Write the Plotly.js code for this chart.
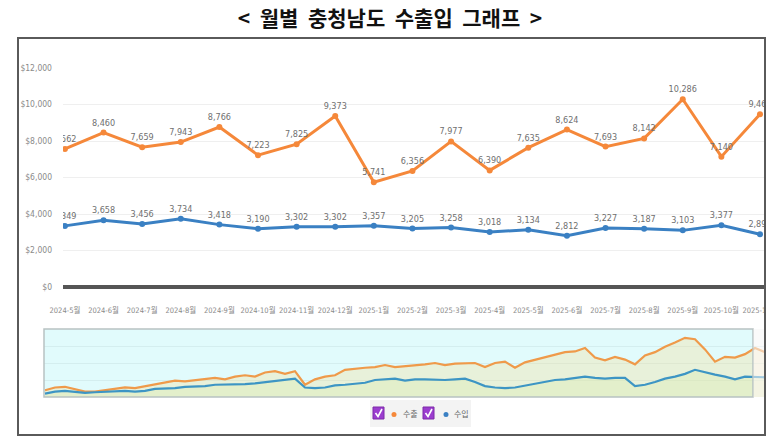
<!DOCTYPE html>
<html>
<head>
<meta charset="utf-8">
<script src="https://cdn.plot.ly/plotly-3.0.1.min.js"></script>
<style>html,body{margin:0;padding:0;background:#fff}#chart{width:780px;height:446px}</style>
</head>
<body>
<div id="chart"></div>
<script>
// ---- data ----
const months = ["2024-5월","2024-6월","2024-7월","2024-8월","2024-9월","2024-10월","2024-11월","2024-12월",
  "2025-1월","2025-2월","2025-3월","2025-4월","2025-5월","2025-6월","2025-7월","2025-8월","2025-9월","2025-10월","2025-11월"];
const exportVals = [7562,8460,7659,7943,8766,7223,7825,9373,5741,6356,7977,6390,7635,8624,7693,8142,10286,7140,9465];
const importVals = [3349,3658,3456,3734,3418,3190,3302,3302,3357,3205,3258,3018,3134,2812,3227,3187,3103,3377,2893];
const seriesNames = ["수출","수입"];
// navigator (overview) series, estimated index values
const navExport = [10,14,15,12,8,8,10,12,14,13,16,19,22,24,23,25,26,28,26,30,32,30,36,38,34,38,18,26,30,32,
  40,42,43,44,47,44,45,47,48,50,47,49,50,50,44,50,52,43,51,55,58,62,66,67,72,58,54,59,55,48,
  61,66,74,80,87,85,70,52,59,58,63,72,66];
const navImport = [5,8,9,7,6,7,8,8,9,8,9,12,12,13,15,15,16,18,18,19,19,20,22,24,25,27,14,13,14,17,
  18,20,21,25,26,27,24,26,26,25,25,26,27,22,16,14,13,14,17,19,22,25,26,28,30,28,27,28,28,16,
  18,22,27,30,34,40,36,33,30,26,30,30,29];

const ORANGE = "#f5883a", BLUE = "#3a80c3";
const W = 780, H = 446;
const X = p => p / W, Y = p => 1 - p / H;
const narrow = "'Liberation Sans Narrow','Arial Narrow','DejaVu Sans Condensed','Noto Sans CJK KR',sans-serif";

const fmt = v => v.toLocaleString("en-US");
const path = pts => "M " + pts.map(p => X(p[0]) + " " + Y(p[1])).join(" L ");

const traces = [
  {x: months, y: exportVals, name: seriesNames[0], type: "scatter", mode: "lines+markers+text",
   text: exportVals.map(fmt), textposition: "top center",
   textfont: {family: narrow, size: 9, color: "#6f6f6f"},
   line: {color: ORANGE, width: 3}, marker: {color: ORANGE, size: 6},
   xaxis: "x", yaxis: "y", showlegend: false, hoverinfo: "x+y"},
  {x: months, y: importVals, name: seriesNames[1], type: "scatter", mode: "lines+markers+text",
   text: importVals.map(fmt), textposition: "top center",
   textfont: {family: narrow, size: 9, color: "#6f6f6f"},
   line: {color: BLUE, width: 3}, marker: {color: BLUE, size: 6},
   xaxis: "x", yaxis: "y", showlegend: false, hoverinfo: "x+y"},
  {y: navExport, type: "scatter", mode: "lines", fill: "tozeroy",
   fillcolor: "rgba(248,220,140,0.30)", line: {color: "#ef9a4a", width: 2.2},
   xaxis: "x2", yaxis: "y2", showlegend: false, hoverinfo: "skip"},
  {y: navImport, type: "scatter", mode: "lines", fill: "tozeroy",
   fillcolor: "rgba(215,235,170,0.30)", line: {color: "#3d95c4", width: 2.2},
   xaxis: "x2", yaxis: "y2", showlegend: false, hoverinfo: "skip"}
];

const shapes = [
  // white mask beyond the frame on the right (clips overflowing tick label)
  {type: "rect", xref: "paper", yref: "paper", x0: X(766), x1: 1, y0: Y(435), y1: Y(38),
   line: {width: 0}, fillcolor: "#ffffff", layer: "above"},
  // outer frame
  {type: "rect", xref: "paper", yref: "paper", x0: X(18), x1: X(765), y0: Y(38), y1: Y(435),
   line: {color: "#5a5a5a", width: 2}, fillcolor: "rgba(0,0,0,0)", layer: "above"},
  // navigator background
  {type: "rect", xref: "paper", yref: "paper", x0: X(44), x1: X(753), y0: Y(397), y1: Y(329),
   line: {width: 0}, fillcolor: "#e1fbfc", layer: "below"},
  // navigator frame
  {type: "rect", xref: "paper", yref: "paper", x0: X(44), x1: X(753), y0: Y(397), y1: Y(329),
   line: {color: "#b8c2c2", width: 1.5}, fillcolor: "rgba(0,0,0,0)", layer: "above"},
  // mask right of navigator window
  {type: "rect", xref: "paper", yref: "paper", x0: X(753.5), x1: X(764), y0: Y(397), y1: Y(329),
   line: {width: 0}, fillcolor: "rgba(245,245,245,0.55)", layer: "above"},
  // legend box
  {type: "rect", xref: "paper", yref: "paper", x0: X(370), x1: X(471), y0: Y(427), y1: Y(400),
   line: {width: 0}, fillcolor: "#f3f3f3", layer: "below"},
  // checkboxes
  {type: "rect", xref: "paper", yref: "paper", x0: X(373), x1: X(384), y0: Y(419), y1: Y(407),
   line: {color: "#7d2aa8", width: 1}, fillcolor: "#9b3ccf", layer: "above"},
  {type: "rect", xref: "paper", yref: "paper", x0: X(423), x1: X(434), y0: Y(419), y1: Y(407),
   line: {color: "#7d2aa8", width: 1}, fillcolor: "#9b3ccf", layer: "above"},
  // check marks
  {type: "path", xref: "paper", yref: "paper", path: path([[375.5,413],[378,416.5],[382,409]]),
   line: {color: "#ffffff", width: 1.6}, layer: "above"},
  {type: "path", xref: "paper", yref: "paper", path: path([[425.5,413],[428,416.5],[432,409]]),
   line: {color: "#ffffff", width: 1.6}, layer: "above"},
  // legend dots
  {type: "circle", xref: "paper", yref: "paper", x0: X(391.5), x1: X(396.5), y0: Y(417), y1: Y(412),
   line: {width: 0}, fillcolor: ORANGE, layer: "above"},
  {type: "circle", xref: "paper", yref: "paper", x0: X(443.5), x1: X(448.5), y0: Y(417), y1: Y(412),
   line: {width: 0}, fillcolor: BLUE, layer: "above"}
];

const annotations = [
  {xref: "paper", yref: "paper", x: X(401), y: Y(421), xanchor: "left", yanchor: "bottom",
   text: seriesNames[0], showarrow: false,
   font: {family: "'Noto Sans CJK KR',sans-serif", size: 8, color: "#666"}},
  {xref: "paper", yref: "paper", x: X(452), y: Y(421), xanchor: "left", yanchor: "bottom",
   text: seriesNames[1], showarrow: false,
   font: {family: "'Noto Sans CJK KR',sans-serif", size: 8, color: "#666"}}
];

const layout = {
  width: W, height: H,
  margin: {l: 0, r: 0, t: 0, b: 0, pad: 0},
  paper_bgcolor: "#ffffff", plot_bgcolor: "rgba(0,0,0,0)",
  title: {text: "<b>&lt;  월별  충청남도  수출입  그래프  &gt;</b>", x: 0.5, xanchor: "center", y: Y(19), yanchor: "middle",
          font: {family: "'Noto Sans CJK KR','Noto Sans',sans-serif", size: 21, color: "#111"}},
  xaxis: {domain: [X(63), X(765)], type: "category", range: [-0.05, 18.13],
          showgrid: false, zeroline: false, showline: false, ticks: "",
          ticklabelstandoff: 17,
          tickfont: {family: narrow, size: 7.5, color: "#8a8a8a"}, fixedrange: true},
  yaxis: {domain: [Y(287), Y(68)], range: [0, 12000], dtick: 2000, tickprefix: "$", tickformat: ",d",
          showgrid: true, gridcolor: "#efefef", gridwidth: 1,
          zeroline: true, zerolinecolor: "#555", zerolinewidth: 3.5,
          showline: false, ticks: "", ticklabelstandoff: 10,
          tickfont: {family: narrow, size: 8.5, color: "#8a8a8a"}, fixedrange: true},
  xaxis2: {domain: [X(44), X(765)], range: [-0.1, 72], anchor: "y2",
           showgrid: false, zeroline: false, showticklabels: false, ticks: "", fixedrange: true},
  yaxis2: {domain: [Y(397), Y(329)], range: [0, 100], anchor: "x2",
           showgrid: true, gridcolor: "rgba(200,225,225,0.5)", dtick: 25,
           zeroline: false, showticklabels: false, ticks: "", fixedrange: true},
  shapes: shapes,
  annotations: annotations,
  showlegend: false
};

Plotly.newPlot("chart", traces, layout, {displayModeBar: false, staticPlot: true});
</script>
</body>
</html>
